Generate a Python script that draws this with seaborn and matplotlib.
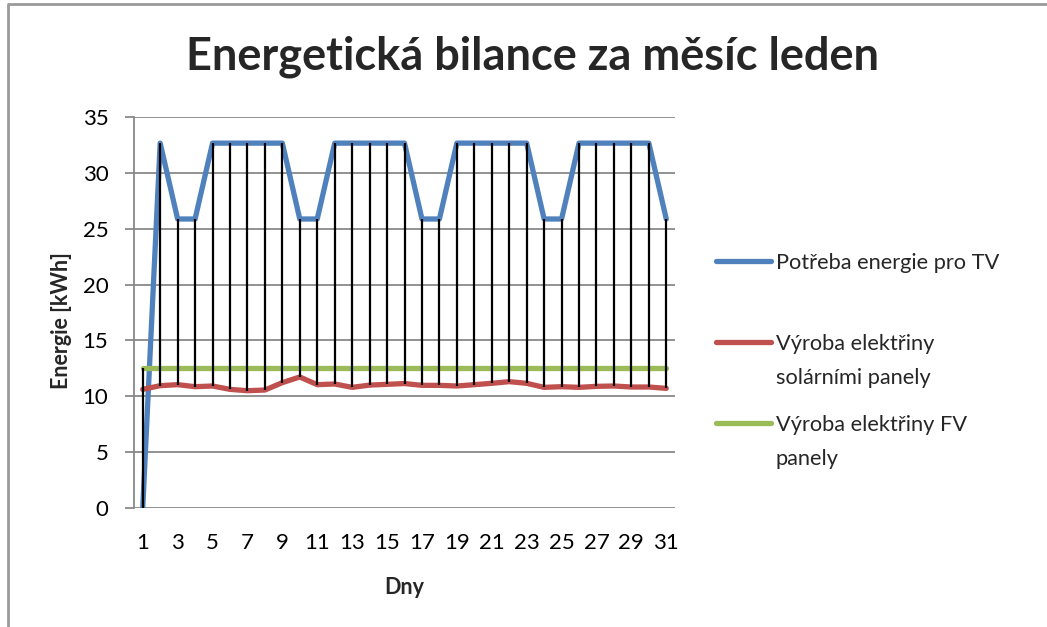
import matplotlib
matplotlib.use("Agg")
import matplotlib.pyplot as plt
from matplotlib.lines import Line2D
import seaborn as sns
import pandas as pd
import numpy as np

# Daily values for January
days = list(range(1, 32))
demand_tv = [0.0, 32.66, 25.87, 25.87, 32.66, 32.66, 32.66, 32.66, 32.66, 25.87,
             25.87, 32.66, 32.66, 32.66, 32.66, 32.66, 25.87, 25.87, 32.66, 32.66,
             32.66, 32.66, 32.66, 25.87, 25.87, 32.66, 32.66, 32.66, 32.66, 32.66,
             25.87]
solar_panels = [10.62, 10.95, 11.04, 10.86, 10.92, 10.62, 10.50, 10.56, 11.22, 11.73,
                11.04, 11.10, 10.80, 11.00, 11.07, 11.14, 10.98, 10.98, 10.92, 11.04,
                11.16, 11.31, 11.16, 10.80, 10.86, 10.80, 10.89, 10.92, 10.83, 10.83,
                10.71]
pv_panels = [12.5] * 31

series_names = ["Potřeba energie pro TV",
                "Výroba elektřiny\nsolárními panely",
                "Výroba elektřiny FV\npanely"]
series_colors = ["#4F81BD", "#C0504D", "#9BBB59"]
x_ticks = list(range(1, 32, 2))
y_ticks = list(range(0, 36, 5))

title = "Energetická bilance za měsíc leden"
x_label = "Dny"
y_label = "Energie [kWh]"

df = pd.DataFrame({
    "Den": days * 3,
    "Energie": demand_tv + solar_panels + pv_panels,
    "Řada": [series_names[0]] * 31 + [series_names[1]] * 31 + [series_names[2]] * 31,
})

sns.set_theme(style="white")
plt.rcParams["font.family"] = ["Lato", "DejaVu Sans"]

fig = plt.figure(figsize=(10.47, 6.27), dpi=100)
ax = fig.add_axes([134 / 1047, 1 - 508 / 627, (675 - 134) / 1047, (508 - 117) / 627])

grid_gray = "#898989"

sns.lineplot(data=df, x="Den", y="Energie", hue="Řada", hue_order=series_names,
             palette=series_colors, linewidth=3.8, ax=ax, legend=True,
             solid_capstyle="round", solid_joinstyle="round", zorder=3)

# high-low lines between the highest and lowest series each day
stack = np.array([demand_tv, solar_panels, pv_panels])
ax.vlines(days, stack.min(axis=0), stack.max(axis=0), colors="black",
          linewidth=1.6, zorder=4)

ax.set_xlim(0.5, 31.5)
ax.set_ylim(0, 35)
ax.set_xticks(x_ticks)
ax.set_xticklabels([str(t) for t in x_ticks])
ax.set_yticks(y_ticks)
ax.set_yticklabels([str(t) for t in y_ticks])

ax.yaxis.grid(True, color=grid_gray, linewidth=1.3, zorder=0)
ax.xaxis.grid(False)
for side in ["top", "right", "bottom"]:
    ax.spines[side].set_visible(False)
ax.spines["left"].set_color(grid_gray)
ax.spines["left"].set_linewidth(1.3)
ax.tick_params(axis="y", which="major", left=True, length=6.5, width=1.3,
               color=grid_gray, pad=12, labelsize=16, labelcolor="black")
ax.tick_params(axis="x", which="major", bottom=False, length=0, pad=18,
               labelsize=16, labelcolor="black")

ax.set_xlabel(x_label, fontsize=15.5, fontweight="bold", labelpad=17)
ax.set_ylabel(y_label, fontsize=15.5, fontweight="bold")
ax.yaxis.label.set(ha="center", va="center", rotation_mode="default")
ax.yaxis.set_label_coords((61 - 134) / 541, (508 - 321) / 391)
fig.suptitle(title, x=532 / 1047, y=1 - 57 / 627, va="center",
             fontsize=32.5, fontweight="bold")

handles, labels = ax.get_legend_handles_labels()
first_lines = [lab.split("\n")[0] for lab in labels]
for h in handles:
    h.set_linewidth(3.8)
    h.set_solid_capstyle("round")
leg = ax.legend(handles, first_lines, loc="center left",
                bbox_to_anchor=(716 / 1047, 1 - 344 / 627),
                bbox_transform=fig.transFigure, frameon=False, fontsize=15.7,
                handlelength=2.5, handletextpad=0.25, labelspacing=2.8,
                borderpad=0, borderaxespad=0)

# continuation lines of the two-line legend labels
fig.canvas.draw()
renderer = fig.canvas.get_renderer()
for txt, lab in zip(leg.get_texts(), labels):
    parts = lab.split("\n")
    if len(parts) > 1:
        bb = txt.get_window_extent(renderer)
        x0, y0 = fig.transFigure.inverted().transform((bb.x0, bb.y0))
        fig.text(x0, y0 - 13.5 / 627, parts[1], fontsize=15.7, ha="left", va="top")

# outer chart border
fig.add_artist(Line2D([8 / 1047, 8 / 1047, 1.0], [0.0, 1 - 4 / 627, 1 - 4 / 627],
                      transform=fig.transFigure, color="#9a9a9a", linewidth=2))

fig.savefig("out.png", dpi=100)
